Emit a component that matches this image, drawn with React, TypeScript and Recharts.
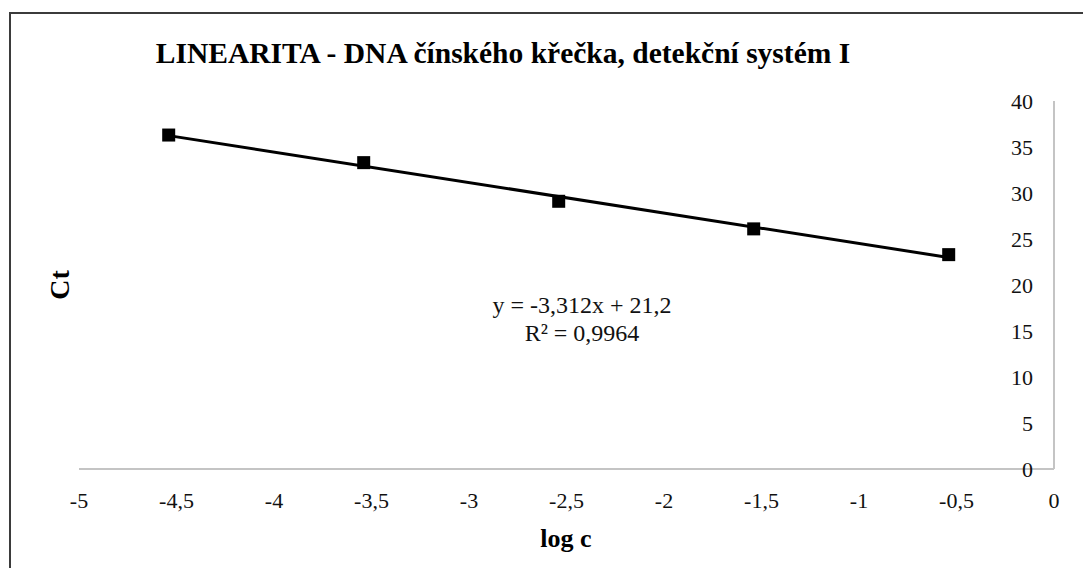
import React from 'react';
import { ScatterChart, Scatter, XAxis, YAxis } from 'recharts';

// log c of the dilution series and the measured Ct values
const logC = [-4.54, -3.54, -2.54, -1.54, -0.54];
const ctValues = [36.3, 33.3, 29.1, 26.1, 23.3];

// linear trend reported on the chart
const SLOPE = -3.312;
const INTERCEPT = 21.2;
const R2 = 0.9964;

const xTicks = [-5, -4.5, -4, -3.5, -3, -2.5, -2, -1.5, -1, -0.5, 0];
const yTicks = [0, 5, 10, 15, 20, 25, 30, 35, 40];

const TITLE = 'LINEARITA - DNA čínského křečka, detekční systém I';
const X_TITLE = 'log c';
const Y_TITLE = 'Ct';

const FONT = '"Liberation Serif", "Times New Roman", serif';
const W = 1075;
const H = 566;

const points = logC.map((x, i) => ({ x, y: ctValues[i] }));
const trend = [logC[0], logC[logC.length - 1]].map(x => ({ x, y: SLOPE * x + INTERCEPT }));

const fmt = (v: number) => String(v).replace('.', ',');

const SquareMarker = (props: any) => {
  const { cx, cy } = props;
  if (cx == null || cy == null) return null;
  return <rect x={cx - 6.5} y={cy - 6.5} width={13} height={13} fill="#000" />;
};

export default function App() {
  const tickStyle = { fontFamily: FONT, fontSize: 22, fill: '#111' };

  return (
    <div style={{ marginLeft: 1, marginTop: 4, width: 1080, height: 556, overflow: 'hidden' }}>
      <div
        style={{
          position: 'relative',
          boxSizing: 'border-box',
          width: 1079,
          height: 590,
          border: '2px solid #3b3b3b',
          background: '#fff',
        }}
      >
        <ScatterChart width={W} height={H} margin={{ top: 87, right: 32, bottom: 81, left: 68 }}>
          <XAxis
            type="number"
            dataKey="x"
            domain={[-5, 0]}
            ticks={xTicks}
            tickFormatter={fmt}
            tick={tickStyle}
            tickLine={false}
            tickSize={0}
            tickMargin={23}
            height={30}
            axisLine={{ stroke: '#c4c4c4', strokeWidth: 2 }}
            allowDataOverflow
          />
          <YAxis
            type="number"
            dataKey="y"
            orientation="right"
            mirror
            domain={[0, 40]}
            ticks={yTicks}
            tick={tickStyle}
            tickLine={false}
            tickSize={0}
            tickMargin={21}
            axisLine={{ stroke: '#c4c4c4', strokeWidth: 2 }}
          />
          <Scatter
            data={trend}
            line={{ stroke: '#000', strokeWidth: 3 }}
            shape={() => null}
            isAnimationActive={false}
          />
          <Scatter data={points} shape={SquareMarker} isAnimationActive={false} />
        </ScatterChart>

        {/* titles and trendline equation */}
        <svg
          width={W}
          height={H}
          style={{ position: 'absolute', left: 0, top: 0, pointerEvents: 'none' }}
        >
          <text x={492} y={49} textAnchor="middle" fontFamily={FONT} fontSize={29.5} fontWeight="bold" fill="#000">
            {TITLE}
          </text>
          <text
            x={58}
            y={271}
            transform="rotate(-90, 58, 271)"
            textAnchor="middle"
            fontFamily={FONT}
            fontSize={28}
            fontWeight="bold"
            fill="#000"
          >
            {Y_TITLE}
          </text>
          <text x={555} y={533} textAnchor="middle" fontFamily={FONT} fontSize={26} fontWeight="bold" fill="#000">
            {X_TITLE}
          </text>
          <text x={571} y={299} textAnchor="middle" fontFamily={FONT} fontSize={24} fill="#111">
            {`y = ${fmt(SLOPE)}x + ${fmt(INTERCEPT)}`}
          </text>
          <text x={571} y={327} textAnchor="middle" fontFamily={FONT} fontSize={24} fill="#111">
            {`R² = ${fmt(R2)}`}
          </text>
        </svg>
      </div>
    </div>
  );
}
